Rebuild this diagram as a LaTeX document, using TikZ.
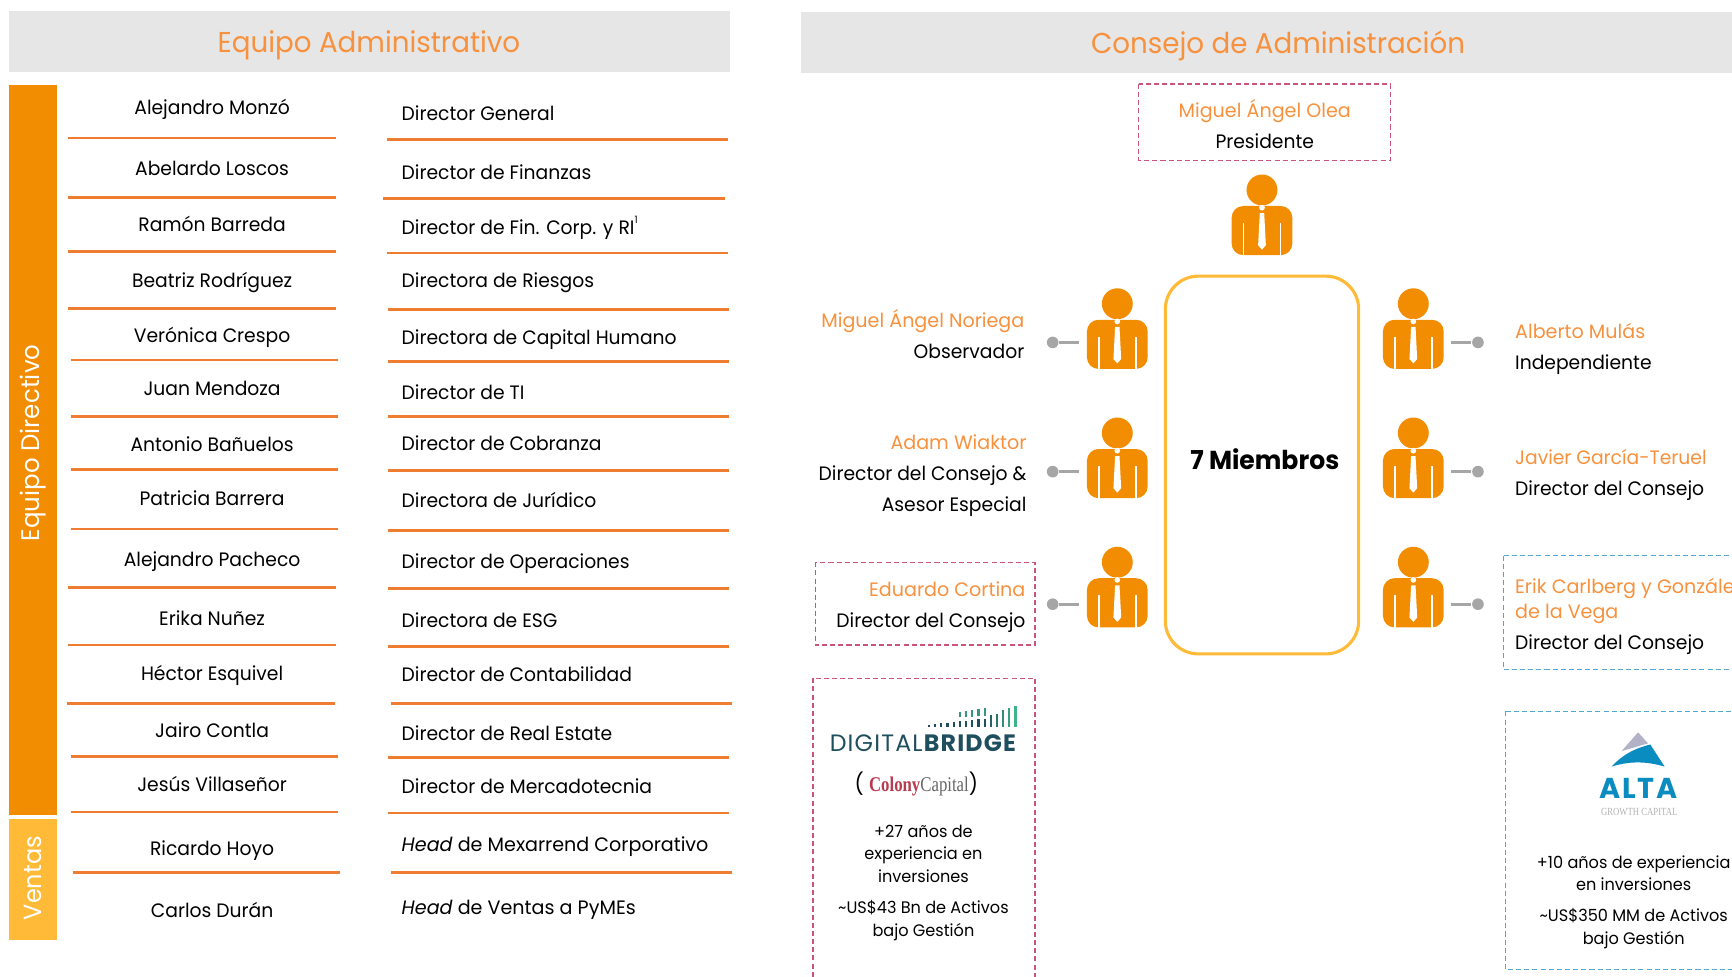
\documentclass[tikz,border=0pt]{standalone}
\usepackage{fontspec}
\setmainfont[FakeStretch=0.965]{Poppins}
\newfontfamily\nomfont[FakeStretch=0.985]{Poppins}
\newfontfamily\dbfont[LetterSpace=5]{Poppins}
\newfontfamily\serifa[FakeStretch=0.8]{Liberation Serif}
\definecolor{naranja}{HTML}{F28C00}
\definecolor{naranjatxt}{HTML}{F7913D}
\definecolor{regla}{HTML}{EE7D31}
\definecolor{amarillo}{HTML}{FFBA38}
\definecolor{gris}{HTML}{E6E6E6}
\definecolor{grislinea}{HTML}{A6A6A6}
\definecolor{rojizo}{HTML}{C9557A}
\definecolor{azulcaja}{HTML}{4FA8D0}
\definecolor{azulalta}{HTML}{0A8CC0}
\definecolor{tealdb}{HTML}{1F4E5F}
\definecolor{verdedb}{HTML}{3DB58A}
\definecolor{rojocolony}{HTML}{B93A4E}
\newcommand{\nm}[1]{\textcolor{naranjatxt}{\nomfont #1}}
\tikzset{
 titulo/.style={font=\fontsize{7.4pt}{9pt}\selectfont,text=naranjatxt},
 texto/.style={font=\fontsize{5pt}{8pt}\selectfont,inner sep=0pt},
 fila/.style={texto,text height=4.8pt,text depth=1pt},
 chico/.style={font=\fontsize{4.3pt}{5.85pt}\selectfont,inner sep=0pt,align=center},
 banda/.style={fill=gris,draw=none},
 linea/.style={regla,line width=0.7pt},
 caja/.style={dash pattern=on 1.3pt off 0.8pt,line width=0.3pt},
 punto/.style={circle,fill=grislinea,inner sep=0pt,minimum size=3pt},
 conector/.style={grislinea,line width=0.7pt},
 persona/.pic={
  \fill[naranja] (0.5,0) circle (14);
  \fill[naranja,rounded corners=3pt] (-27,59)--(-27,14.5)--(28,14.5)--(28,59)--cycle;
  \fill[white] (-17,30) rectangle (-15.5,60);
  \fill[white] (16.5,30) rectangle (18,60);
  \fill[white] (0.5,16) circle (2.6);
  \fill[white] (-1.5,21)--(2.5,21)--(4,50)--(0.5,54)--(-3,50)--cycle;
  \coordinate (-izq) at (-34,35);
  \coordinate (-der) at (35,35);
 }
}
\begin{document}
\begin{tikzpicture}[x=0.1mm,y=-0.1mm]
\useasboundingbox (0,0) rectangle (1568,883.6);
\clip (0,0) rectangle (1568,883.6);
%encabezados
\fill[banda] (8,10) rectangle (661,65);
\fill[banda] (725,11) rectangle (1600,66);
\node (tadmin)[titulo] at (334,41){Equipo Administrativo};
\node (tconsejo)[titulo] at (1157,42){Consejo de Administraci\'on};
%barras laterales
\fill[naranja] (8,77) rectangle (52,738);
\fill[amarillo] (8,741) rectangle (52,851);
\node (directivo)[rotate=90,text=white,font=\fontsize{6.55pt}{8pt}\selectfont] at (30,401){Equipo Directivo};
\node (ventas)[rotate=90,text=white,font=\fontsize{6.4pt}{8pt}\selectfont] at (30,795){Ventas};
%nombres
\foreach \nombre/\y [count=\i] in {Alejandro Monz\'o/97,Abelardo Loscos/152,Ram\'on Barreda/203,Beatriz Rodr\'iguez/254,Ver\'onica Crespo/303,Juan Mendoza/351,Antonio Ba\~nuelos/402,Patricia Barrera/451,Alejandro Pacheco/506,Erika Nu\~nez/560,H\'ector Esquivel/609,Jairo Contla/661,Jes\'us Villase\~nor/710,Ricardo Hoyo/768,Carlos Dur\'an/824}
 \node (nom\i)[fila] at (192,\y){\nombre};
%puestos
\foreach \puesto/\y [count=\i] in {Director General/102,Director de Finanzas/156,{Director de Fin. Corp. y RI{\fontsize{2.6pt}{3pt}\selectfont\raisebox{3pt}{1}}}/206,Directora de Riesgos/254,Directora de Capital Humano/305,Director de TI/355,Director de Cobranza/401,Directora de Jur\'idico/453,Director de Operaciones/508,Directora de ESG/561,Director de Contabilidad/610,Director de Real Estate/664,Director de Mercadotecnia/712,{\nomfont\textit{Head} de Mexarrend Corporativo}/764,{\nomfont\textit{Head} de Ventas a PyMEs}/821}
 \node (pue\i)[fila,anchor=west] at (363,\y){\puesto};
%reglas
\foreach \a/\b/\y in {62/304/125,62/304/179,62/304/228,62/304/279,64/306/326,64/306/377,64/306/425,64/306/479,62/304/532,62/304/584,61/303/637,64/306/685,64/306/735,66/308/790,350/659/126,347/656/180,350/659/229,351/660/280,351/660/327,351/660/377,351/660/426,351/660/480,351/660/533,351/660/585,354/663/637,351/660/686,351/660/736,354/663/790}
 \draw[linea] (\a,\y)--(\b,\y);
%cajas punteadas
\draw[caja,rojizo] (1031,76) rectangle (1259,145);
\draw[caja,rojizo] (738,509) rectangle (937,584);
\draw[caja,rojizo] (736,614) rectangle (937,900);
\draw[caja,azulcaja] (1361,503) rectangle (1600,606);
\draw[caja,azulcaja] (1363,644) rectangle (1600,878);
%personas
\pic (psup) at (1142,172) {persona};
\pic (pi1) at (1011,275) {persona};
\pic (pi2) at (1011,392) {persona};
\pic (pi3) at (1011,509) {persona};
\pic (pd1) at (1279,275) {persona};
\pic (pd2) at (1279,392) {persona};
\pic (pd3) at (1279,509) {persona};
\path (953,310) node(ci1)[punto]{}
(953,427) node(ci2)[punto]{}
(953,547) node(ci3)[punto]{}
(1338,310) node(cd1)[punto]{}
(1338,427) node(cd2)[punto]{}
(1338,547) node(cd3)[punto]{};
\foreach \p/\c in {pi1/ci1,pi2/ci2,pi3/ci3}
 \draw[conector] (\c -| \p-izq)--(\c);
\foreach \p/\c in {pd1/cd1,pd2/cd2,pd3/cd3}
 \draw[conector] (\c -| \p-der)--(\c);
%miembros
\draw[amarillo,line width=0.8pt,rounded corners=8.5pt] (1055,250) rectangle (1230,592);
\node (miembros)[font=\fontsize{6.7pt}{8pt}\selectfont\bfseries] at (1145,416){7 Miembros};
%consejeros
\node (olea)[texto,align=center] at (1145,112){\nm{Miguel \'Angel Olea}\\Presidente};
\node (noriega)[texto,align=right,anchor=east] at (928,302.5){\nm{Miguel \'Angel Noriega}\\Observador};
\node (wiaktor)[texto,align=right,anchor=east] at (930,431){\nm{Adam Wiaktor}\\Director del Consejo \&\\Asesor Especial};
\node (cortina)[texto,align=right,anchor=east] at (929,550){\nm{Eduardo Cortina}\\Director del Consejo};
\node (mulas)[texto,align=left,anchor=west] at (1371,316){\nm{Alberto Mul\'as}\\Independiente};
\node (teruel)[texto,align=left,anchor=west] at (1371,430){\textcolor{naranjatxt}{Javier Garc\'ia-Teruel}\\Director del Consejo};
\node (carlberg)[texto,align=left,anchor=west] at (1371,558){\nm{Erik Carlberg y Gonz\'alez}\\[-1.7pt]\nm{de la Vega}\\Director del Consejo};
%logo digitalbridge
\foreach \i in {0,...,9}
 \fill[tealdb] ({840+5.6*\i},658.5) rectangle ({842+5.6*\i},{656-0.6*\i});
\foreach \i in {5,...,9}
 \fill[verdedb!70!tealdb] ({840+5.6*\i},{651-0.3*\i}) rectangle ({842+5.6*\i},{649-0.9*\i});
\foreach \i/\t/\c in {10/647/20,11/646/40,12/643/60,13/641/80,14/639/100}
 \fill[verdedb!\c!tealdb] ({840+5.6*\i},658.5) rectangle ({842+5.6*\i},\t);
\node (dbridge)[inner sep=0pt,text=tealdb,font=\fontsize{6.1pt}{7pt}\selectfont\dbfont] at (836,672.5){DIGITAL\textbf{BRIDGE}};
\node (colony)[inner sep=0pt,font=\fontsize{5.4pt}{7pt}\selectfont] at (829.5,710){( {\serifa\textcolor{rojocolony}{\textbf{Colony}}\textcolor{black!60}{Capital}})};
\node (dbtxt)[chico] at (836,773){+27 a\~nos de\\experiencia en\\inversiones};
\node (dbact)[chico] at (836,833.5){\textasciitilde US\$43 Bn de Activos\\bajo Gesti\'on};
%logo alta
\fill[black!20!blue!20!gray!50] (1483,663)--(1492,673)--(1468,680)--cycle;
\fill[azulalta] (1459,694) .. controls (1470,682) and (1482,677) .. (1494,674)--(1507,694) .. controls (1490,689) and (1475,689) .. cycle;
\node (alta)[inner sep=0pt,text=azulalta,font=\fontsize{7.4pt}{8pt}\selectfont\dbfont] at (1484,714){\textbf{ALTA}};
\node (growth)[inner sep=0pt,text=black!30,font=\fontsize{2.8pt}{3pt}\selectfont\serifa] at (1484,735){GROWTH CAPITAL};
\node (altatxt)[chico] at (1479,790.5){+10 a\~nos de experiencia\\en inversiones};
\node (altaact)[chico] at (1479,840.5){\textasciitilde US\$350 MM de Activos\\bajo Gesti\'on};
\end{tikzpicture}
\end{document}
